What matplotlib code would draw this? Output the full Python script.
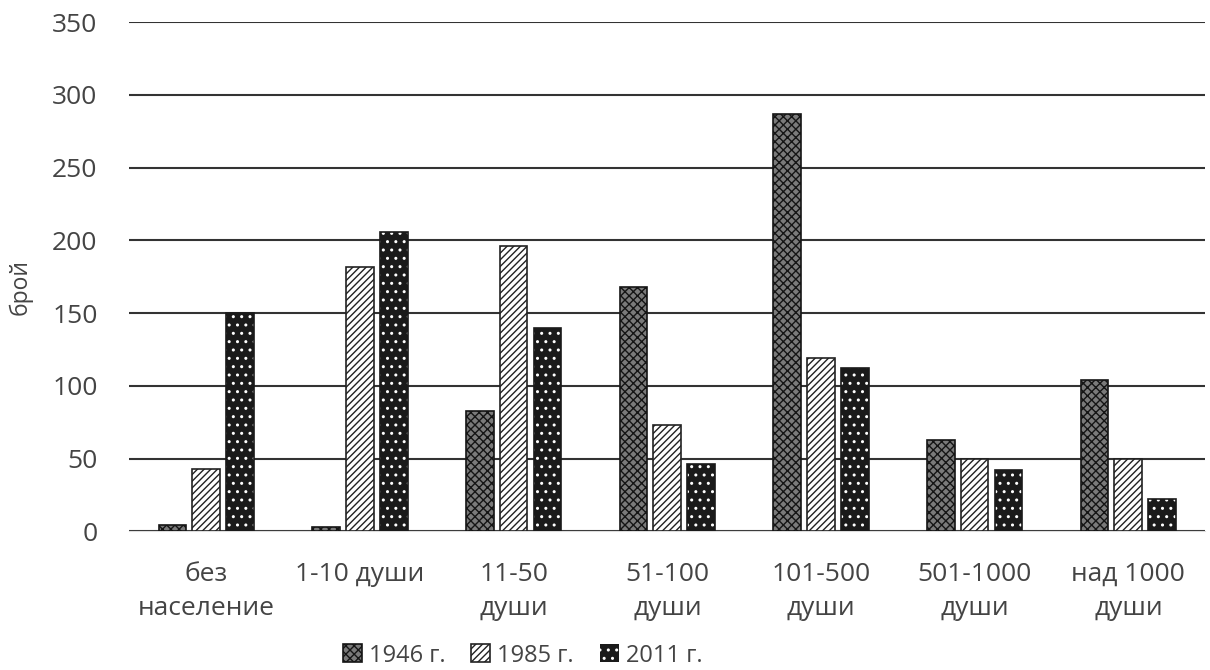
import numpy as np
import matplotlib.pyplot as plt

plt.rcParams['font.family'] = ['Open Sans', 'DejaVu Sans']
plt.rcParams['hatch.linewidth'] = 1.0

# категории и стойности
kategorii = ['без\nнаселение', '1-10 души', '11-50\nдуши', '51-100\nдуши',
             '101-500\nдуши', '501-1000\nдуши', 'над 1000\nдуши']
g1946 = [4, 3, 83, 168, 287, 63, 104]
g1985 = [43, 182, 196, 73, 119, 50, 50]
g2011 = [150, 206, 140, 46, 112, 42, 22]
godini = ['1946 г.', '1985 г.', '2011 г.']

fig = plt.figure(figsize=(12.1, 6.7), dpi=100)
ax = fig.add_axes([0.107, 0.207, 0.889, 0.76])

x = np.arange(len(kategorii))
w = 0.18
d = 0.22

b1 = ax.bar(x - d, g1946, w, facecolor='#7a7a7a', edgecolor='#151515',
            hatch='xxxx', linewidth=1.2, label=godini[0], zorder=3)
b2 = ax.bar(x, g1985, w, facecolor='white', edgecolor='#222222',
            hatch='/////', linewidth=1.2, label=godini[1], zorder=3)
# 2011: черно с бели точки
b3 = ax.bar(x + d, g2011, w, facecolor='#1a1a1a', edgecolor='white',
            hatch='..', linewidth=0, label=godini[2], zorder=3)
ax.bar(x + d, g2011, w, fill=False, edgecolor='#1a1a1a', linewidth=1.2, zorder=4)

ax.set_xlim(-0.5, 6.5)
ax.set_ylim(0, 350)
ax.set_yticks(np.arange(0, 351, 50))
ax.yaxis.grid(True, color='#333333', linewidth=1.5)
ax.set_axisbelow(True)
for s in ['left', 'right', 'top']:
    ax.spines[s].set_visible(False)
ax.spines['bottom'].set_color('#dddddd')
ax.tick_params(axis='y', length=0, labelsize=19, colors='#444444', pad=23)
ax.tick_params(axis='x', length=0, labelsize=19, colors='#444444', pad=22)
ax.set_xticks(x)
ax.set_xticklabels(kategorii, linespacing=1.5)
ax.set_ylabel('брой', fontsize=16.5, color='#444444')
ax.yaxis.set_label_coords(-0.09, 0.48)

fig.legend(handles=[b1, b2, b3], loc='lower center', ncol=3, frameon=False,
           fontsize=17, bbox_to_anchor=(0.432, -0.028), handlelength=0.8,
           handleheight=0.8, handletextpad=0.3, columnspacing=1.1,
           labelcolor='#444444')

fig.savefig('out.png', dpi=100)
